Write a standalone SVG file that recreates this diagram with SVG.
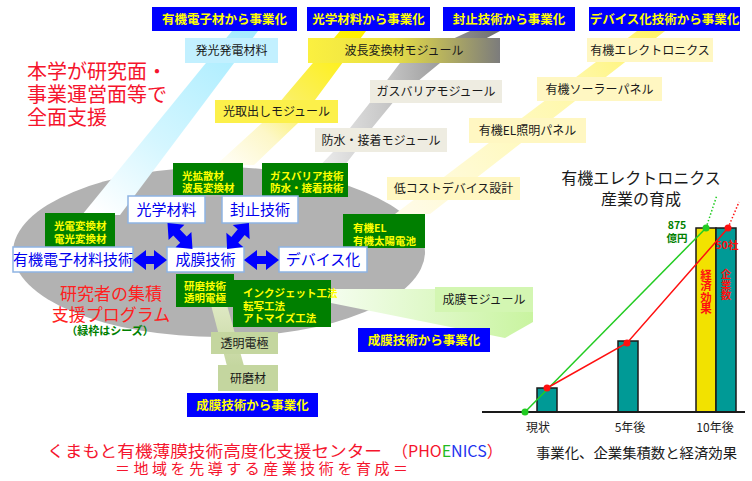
<svg xmlns="http://www.w3.org/2000/svg" width="752" height="481" viewBox="0 0 752 481">
<defs>
<style>
text{font-family:"Noto Sans CJK JP","Noto Sans",sans-serif}
.ban{fill:#0000ff}
.bt{fill:#ffff00;font-weight:bold;font-size:12.5px;text-anchor:middle}
.lb{fill:#1a1a1a;font-size:12px;text-anchor:middle}
.gb{fill:#007f00}
.gt{fill:#ffff00;font-weight:bold;font-size:10.5px}
.wb{fill:#ffffff;stroke:#8eb4e3;stroke-width:1.5}
.wt{fill:#0000ee;font-size:15px;text-anchor:middle}
.pale{fill:#fff7c2}
.beige{fill:#eeece1}
.olive{fill:#c4d69f}
.arr{fill:#0000ff}
.ax{fill:#1a1a1a;font-size:12px;text-anchor:middle}
.vt{writing-mode:vertical-rl;text-anchor:middle;font-weight:bold;fill:#ff1010}
</style>
<linearGradient id="gCyan" gradientUnits="userSpaceOnUse" x1="245" y1="31" x2="100" y2="215">
<stop offset="0" stop-color="#a6ecff"/><stop offset="0.6" stop-color="#d4f6ff"/><stop offset="1" stop-color="#ffffff"/>
</linearGradient>
<linearGradient id="gYel" gradientUnits="userSpaceOnUse" x1="350" y1="31" x2="235" y2="165">
<stop offset="0" stop-color="#fff000"/><stop offset="0.5" stop-color="#fbf060"/><stop offset="0.75" stop-color="#fdf7c8"/><stop offset="1" stop-color="#fffdf0"/>
</linearGradient>
<linearGradient id="gGray" x1="0" y1="0" x2="1" y2="0">
<stop offset="0" stop-color="#f2f2f2"/><stop offset="0.4" stop-color="#c8c8c8"/><stop offset="1" stop-color="#6e6e6e"/>
</linearGradient>
<linearGradient id="gPale" gradientUnits="userSpaceOnUse" x1="650" y1="31" x2="412" y2="214">
<stop offset="0" stop-color="#fff36a"/><stop offset="0.3" stop-color="#fff8a8"/><stop offset="1" stop-color="#fffbe6"/>
</linearGradient>
<linearGradient id="gGreen" gradientUnits="userSpaceOnUse" x1="331" y1="300" x2="533" y2="310">
<stop offset="0" stop-color="#f4fdee"/><stop offset="1" stop-color="#c9f4a0"/>
</linearGradient>
<linearGradient id="gOl" gradientUnits="userSpaceOnUse" x1="0" y1="305" x2="0" y2="366">
<stop offset="0" stop-color="#dfe9c4"/><stop offset="1" stop-color="#c4d69f"/>
</linearGradient>
<linearGradient id="gWave" x1="0" y1="0" x2="1" y2="0">
<stop offset="0" stop-color="#fbf040"/><stop offset="0.45" stop-color="#e8df45"/><stop offset="1" stop-color="#7c7c7c"/>
</linearGradient>
</defs>

<rect width="752" height="481" fill="#ffffff"/>

<!-- background ellipse -->
<ellipse id="cluster" cx="219" cy="252" rx="206" ry="85" fill="#b2b2b2"/>

<!-- beams -->
<g id="beams">
<polygon points="232,31 258,31 120,215 82,215" fill="url(#gCyan)"/>
<polygon points="340,31 366,31 298,123 254,165 216,165 262,123" fill="url(#gYel)"/>
<polygon points="470,31 500,31 440,63 395,100 372,128 355,152 335,178 308,178 333,152 350,128 372,100 400,63" fill="url(#gGray)"/>
<polygon points="637,31 665,31 430,214 395,214" fill="url(#gPale)"/>
<polygon points="331,289 533,289 533,322 505,338 331,303" fill="url(#gGreen)"/>
<polygon points="211,305 227,305 244,366 227,366" fill="url(#gOl)"/>
</g>

<!-- red heading -->
<g id="heading" fill="#f5142d" font-size="20">
<text x="27" y="79">本学が研究面・</text>
<text x="27" y="102">事業運営面等で</text>
<text x="27" y="125">全面支援</text>
</g>

<!-- top banners -->
<g id="banner-organic"><rect class="ban" x="152" y="7" width="145" height="24"/><text class="bt" x="224.5" y="24">有機電子材から事業化</text></g>
<g id="banner-optical"><rect class="ban" x="307" y="7" width="123" height="24"/><text class="bt" x="368.5" y="24">光学材料から事業化</text></g>
<g id="banner-seal"><rect class="ban" x="443" y="7" width="132" height="24"/><text class="bt" x="509" y="24">封止技術から事業化</text></g>
<g id="banner-device"><rect class="ban" x="589" y="7" width="151" height="24"/><text class="bt" x="664.5" y="24">デバイス化技術から事業化</text></g>

<!-- product labels -->
<g id="lbl-hakko"><rect x="185" y="38" width="93" height="25" fill="#c2f0ff"/><text class="lb" x="231.5" y="55">発光発電材料</text></g>
<g id="lbl-hacho"><rect x="308" y="38" width="192" height="25" fill="url(#gWave)"/><text class="lb" x="404" y="55">波長変換材モジュール</text></g>
<g id="lbl-gas"><rect class="beige" x="370" y="80" width="132" height="23"/><text class="lb" x="436" y="96">ガスバリアモジュール</text></g>
<g id="lbl-hikari"><rect x="215" y="100" width="123" height="23" fill="#fcf04a"/><text class="lb" x="276.5" y="116">光取出しモジュール</text></g>
<g id="lbl-bousui"><rect class="beige" x="315" y="128" width="132" height="24"/><text class="lb" x="381" y="145">防水・接着モジュール</text></g>
<g id="lbl-elec"><rect class="pale" x="587" y="38" width="126" height="24"/><text class="lb" x="650" y="55">有機エレクトロニクス</text></g>
<g id="lbl-solar"><rect class="pale" x="537" y="77" width="125" height="24"/><text class="lb" x="599.5" y="94">有機ソーラーパネル</text></g>
<g id="lbl-el"><rect class="pale" x="469" y="118" width="117" height="25"/><text class="lb" x="527.5" y="135">有機EL照明パネル</text></g>
<g id="lbl-lowcost"><rect class="pale" x="387" y="177" width="133" height="23"/><text class="lb" x="453.5" y="193">低コストデバイス設計</text></g>
<g id="lbl-seimaku"><rect x="435" y="287" width="98" height="25" fill="#d3f6b2"/><text class="lb" x="484" y="304">成膜モジュール</text></g>
<g id="lbl-toumei"><rect class="olive" x="211" y="332" width="67" height="22"/><text class="lb" x="244.5" y="348">透明電極</text></g>
<g id="lbl-kenma"><rect class="olive" x="218" y="365" width="60" height="26"/><text class="lb" x="248" y="383">研磨材</text></g>

<!-- green seed boxes -->
<g id="seed-optical"><rect class="gb" x="173" y="163" width="70" height="32"/><text class="gt" x="182" y="179.5">光拡散材</text><text class="gt" x="182" y="192">波長変換材</text></g>
<g id="seed-seal"><rect class="gb" x="262" y="163" width="86" height="34"/><text class="gt" x="270" y="179.5">ガスバリア技術</text><text class="gt" x="270" y="192">防水・接着技術</text></g>
<g id="seed-organic"><rect class="gb" x="45" y="213" width="70" height="34"/><text class="gt" x="54" y="230">光電変換材</text><text class="gt" x="54" y="243">電光変換材</text></g>
<g id="seed-device"><rect class="gb" x="343" y="214" width="82" height="34"/><text class="gt" x="353" y="232">有機EL</text><text class="gt" x="353" y="245">有機太陽電池</text></g>
<g id="seed-kenma"><rect class="gb" x="176" y="274" width="58" height="33"/><text class="gt" x="184" y="290">研磨技術</text><text class="gt" x="184" y="302">透明電極</text></g>
<g id="seed-inkjet"><rect class="gb" x="233" y="280" width="98" height="47"/><text class="gt" x="243" y="297">インクジェット工法</text><text class="gt" x="243" y="309.5">転写工法</text><text class="gt" x="243" y="322">アトマイズ工法</text></g>

<!-- core technology boxes -->
<g id="node-optical"><rect class="wb" x="128" y="196" width="77" height="27"/><text class="wt" x="166.5" y="215">光学材料</text></g>
<g id="node-seal"><rect class="wb" x="222" y="196" width="76" height="27"/><text class="wt" x="260" y="215">封止技術</text></g>
<g id="node-organic"><rect class="wb" x="13" y="247" width="120" height="25"/><text class="wt" x="73" y="265" font-size="13">有機電子材料技術</text></g>
<g id="node-film"><rect class="wb" x="167" y="247" width="77" height="25"/><text class="wt" x="205.5" y="265">成膜技術</text></g>
<g id="node-device"><rect class="wb" x="279" y="247" width="88" height="25"/><text class="wt" x="323" y="265">デバイス化</text></g>

<!-- program text -->
<g id="program">
<text x="111" y="300" fill="#ff2020" font-size="17" text-anchor="middle">研究者の集積</text>
<text x="111" y="321" fill="#ff2020" font-size="17" text-anchor="middle">支援プログラム</text>
<text x="110" y="335" fill="#008000" font-size="11" font-weight="bold" text-anchor="middle">（緑枠はシーズ）</text>
</g>

<!-- connectors -->
<g id="connectors">
<polygon class="arr" points="133,260 146,250 146,256 154,256 154,250 167,260 154,270 154,264 146,264 146,270"/>
<polygon class="arr" points="244,260 257,250 257,256 266,256 266,250 279,260 266,270 266,264 257,264 257,270"/>
<polygon class="arr" transform="translate(180,236) rotate(46)" points="-18,0 -5,-11 -5,-4.5 5,-4.5 5,-11 18,0 5,11 5,4.5 -5,4.5 -5,11"/>
<polygon class="arr" transform="translate(238,236) rotate(130)" points="-17,0 -5,-11 -5,-4.5 5,-4.5 5,-11 17,0 5,11 5,4.5 -5,4.5 -5,11"/>
</g>

<!-- bottom banners -->
<g id="banner-film1"><rect class="ban" x="358" y="328" width="132" height="24"/><text class="bt" x="424" y="345">成膜技術から事業化</text></g>
<g id="banner-film2"><rect class="ban" x="187" y="393" width="131" height="24"/><text class="bt" x="252.5" y="410">成膜技術から事業化</text></g>

<!-- chart -->
<g id="chart">
<text x="641" y="184" fill="#1a1a1a" font-size="16" text-anchor="middle">有機エレクトロニクス</text>
<text x="641" y="205" fill="#1a1a1a" font-size="16" text-anchor="middle">産業の育成</text>
<rect x="537" y="388" width="20" height="24" fill="#009a96" stroke="#1a1a1a" stroke-width="1.5"/>
<rect x="618" y="341" width="20" height="71" fill="#009a96" stroke="#1a1a1a" stroke-width="1.5"/>
<rect x="696" y="228" width="20" height="184" fill="#f2e200" stroke="#1a1a1a" stroke-width="1.5"/>
<rect x="716" y="228" width="20" height="184" fill="#009a96" stroke="#1a1a1a" stroke-width="1.5"/>
<line x1="482" y1="412" x2="745" y2="412" stroke="#1a1a1a" stroke-width="2"/>
<polyline points="525,412 706,228" fill="none" stroke="#22cc22" stroke-width="1.5"/>
<line x1="706" y1="228" x2="717" y2="195" stroke="#22cc22" stroke-width="1.5" stroke-dasharray="1.5,2"/>
<polyline points="547,388 627,343 728,228" fill="none" stroke="#ff1010" stroke-width="1.5"/>
<line x1="728" y1="228" x2="739" y2="202" stroke="#ff1010" stroke-width="1.5" stroke-dasharray="1.5,2"/>
<circle cx="525" cy="412" r="3.5" fill="#22cc22"/>
<circle cx="706" cy="228" r="3.5" fill="#22cc22"/>
<circle cx="547" cy="388" r="3.5" fill="#ff1010"/>
<circle cx="627" cy="343" r="3.5" fill="#ff1010"/>
<circle cx="728" cy="228" r="3.5" fill="#ff1010"/>
<text x="677" y="228.5" fill="#008000" font-size="10.5" font-weight="bold" text-anchor="middle">875</text>
<text x="677" y="242" fill="#008000" font-size="10.5" font-weight="bold" text-anchor="middle">億円</text>
<text x="727" y="249" fill="#ff1010" font-size="10.5" font-weight="bold" text-anchor="middle">50社</text>
<text class="vt" x="706" y="291.5" font-size="11.5">経済効果</text>
<text class="vt" x="726" y="285" font-size="10.5">企業数</text>
<text class="ax" x="538" y="432">現状</text>
<text class="ax" x="630" y="432">5年後</text>
<text class="ax" x="715" y="432">10年後</text>
<text x="536" y="458" fill="#1a1a1a" font-size="14" textLength="201" lengthAdjust="spacingAndGlyphs">事業化、企業集積数と経済効果</text>
</g>

<!-- footer -->
<g id="footer">
<text x="47" y="457" fill="#f5142d" font-size="16" textLength="335" lengthAdjust="spacingAndGlyphs">くまもと有機薄膜技術高度化支援センター</text>
<text x="392" y="457" fill="#f5142d" font-size="16">（PHO<tspan fill="#22bb22">E</tspan><tspan fill="#2233ee">NICS</tspan>）</text>
<text x="115" y="474" fill="#f5142d" font-size="15" textLength="293" lengthAdjust="spacing">＝地域を先導する産業技術を育成＝</text>
</g>
</svg>
